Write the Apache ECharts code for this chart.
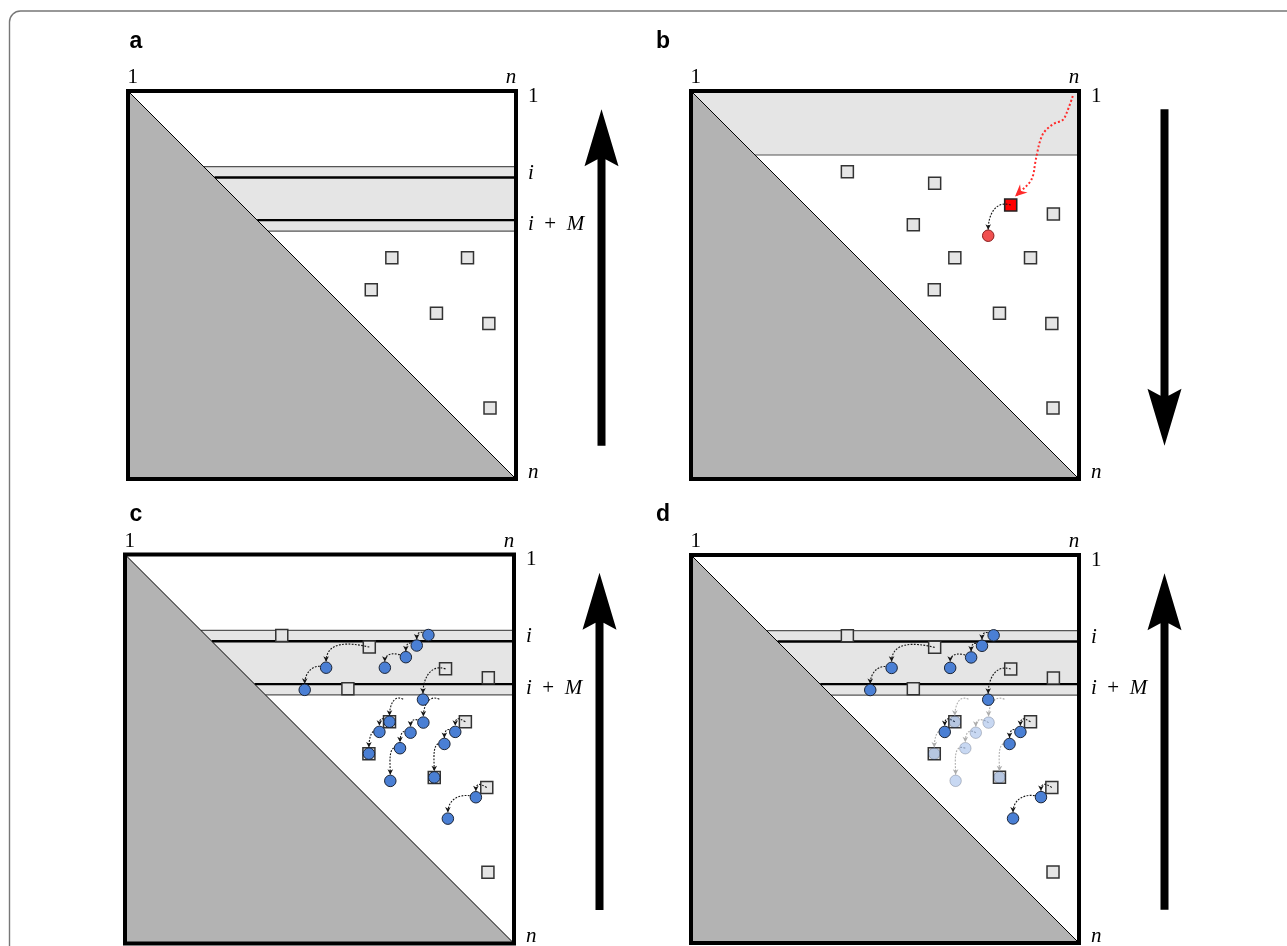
<!DOCTYPE html>
<html>
<head>
<meta charset="utf-8">
<script src="https://cdn.jsdelivr.net/npm/echarts@6/dist/echarts.min.js"></script>
<style>
  html, body { margin: 0; padding: 0; background: #fff; }
  #chart { width: 1287px; height: 946px; }
</style>
</head>
<body>
<div id="chart"></div>
<script>
// Matrix coordinates: column (x) and row (y) as percent of n, row 0 at the top.
const panelNames = ['a', 'b', 'c', 'd'];
const panelKinds = ['window', 'done', 'window', 'window'];
const arrowDirs = ['up', 'down', 'up', 'up'];

// tick labels around each matrix
const topTickValues = [1.2, 98.7];
const topTickLabels = ['1', 'n'];
const rowTickValues = [1.3, 21.2, 34.5, 98.2];
const rowTickLabels = ['1', 'i', 'i  +  M', 'n'];
const rowTickValuesPlain = [1.3, 98.2];
const rowTickLabelsPlain = ['1', 'n'];

// window of rows i .. i+M (outer edges and inner lines)
const windowRows = { top: 19.5, innerTop: 22.3, innerBottom: 33.3, bottom: 36.1 };
// rows already processed in panel b
const doneRow = 16.5;

// stored cells (squares)
const squares = [
  [40.3, 20.8], [62.8, 23.8], [82.4, 29.4], [93.4, 31.7], [57.3, 34.5],
  [68.0, 43.0], [87.5, 43.0], [62.7, 51.2], [79.5, 57.3], [93.0, 59.9], [93.3, 81.7]
];
// visited cells (circles)
const circles = [
  [78.0, 20.7], [75.0, 23.4], [72.2, 26.4], [66.8, 29.1], [51.7, 29.1],
  [46.2, 34.8], [76.6, 37.3], [68.0, 43.0], [76.7, 43.2], [65.4, 45.6],
  [73.4, 45.8], [84.9, 45.6], [70.7, 49.8], [82.1, 48.7], [62.7, 51.2],
  [79.5, 57.3], [68.2, 58.2], [90.2, 62.4], [83.0, 67.9]
];
// arrow origins that are not drawn as marks
const hiddenSources = [[71.5, 37.2], [80.8, 37.2]];

// dependency arrows: source -> target
const arrowLinks = [
  ['C1', 'C2'], ['C2', 'C3'], ['C3', 'C4'], ['S2', 'C5'], ['C5', 'C6'], ['S3', 'C7'],
  ['X1', 'C8'], ['X2', 'C9'], ['C8', 'C10'], ['C10', 'C15'], ['C9', 'C11'], ['C11', 'C13'],
  ['C13', 'C17'], ['S7', 'C12'], ['C12', 'C14'], ['C14', 'C16'], ['S10', 'C18'], ['C18', 'C19']
];
const fadedInD = ['C8', 'C9', 'C11', 'C13', 'C15', 'C16', 'C17'];

// panel b: highlighted cell, its successor and the incoming path
const highlightSquare = 'S3';
const highlightCircle = 'C7';
const incomingPath = [
  [98.4, 1.3], [96.8, 5.7], [95.8, 7.5], [93.8, 8.3], [92.1, 9.5], [90.8, 10.9],
  [89.9, 13.1], [89.3, 15.6], [88.7, 18.6], [88.2, 21.6], [87.4, 23.4], [86.1, 24.8], [83.5, 27.2]
];

function pt(key) {
  const t = key[0], i = +key.slice(1) - 1;
  return t === 'S' ? squares[i] : t === 'C' ? circles[i] : hiddenSources[i];
}

const MATH_FONT = 'Liberation Serif';
const CIRCLE_SIZE = 11.5;
const SQUARE_SIZE = 12;
const BLUE = '#4a7fd4';
const BLUE_EDGE = '#1c2536';

function mathLabel(s) {
  return s.replace(/[A-Za-z]/g, m => '{it|' + m + '}');
}
function nearestLabel(values, labels, v) {
  let best = 0;
  values.forEach((x, i) => { if (Math.abs(x - v) < Math.abs(values[best] - v)) best = i; });
  return mathLabel(labels[best]);
}

function headPoints(tip, dir, len, half, notch) {
  const n = Math.hypot(dir[0], dir[1]) || 1;
  const ux = dir[0] / n, uy = dir[1] / n;
  const px = -uy, py = ux;
  const bx = tip[0] - ux * len, by = tip[1] - uy * len;
  return [
    tip,
    [bx + px * half, by + py * half],
    [tip[0] - ux * (len - notch), tip[1] - uy * (len - notch)],
    [bx - px * half, by - py * half]
  ];
}

function renderBackground(kind) {
  return function (params, api) {
    const c = (x, y) => api.coord([x, y]);
    const kids = [];
    const seg = (a, b, stroke, w) => kids.push({
      type: 'line', shape: { x1: a[0], y1: a[1], x2: b[0], y2: b[1] },
      style: { stroke: stroke, lineWidth: w }
    });
    if (kind === 'window') {
      const w = windowRows;
      kids.push({ type: 'polygon', shape: { points: [c(w.top, w.top), c(100, w.top), c(100, w.bottom), c(w.bottom, w.bottom)] },
        style: { fill: '#e5e5e5' } });
      [w.top, w.bottom].forEach(r => seg(c(r, r), c(100, r), '#555', 1.2));
      [w.innerTop, w.innerBottom].forEach(r => seg(c(r, r), c(100, r), '#000', 2.3));
    } else {
      kids.push({ type: 'polygon', shape: { points: [c(0, 0), c(100, 0), c(100, doneRow), c(doneRow, doneRow)] },
        style: { fill: '#e5e5e5' } });
      seg(c(doneRow, doneRow), c(100, doneRow), '#555', 1.2);
    }
    kids.push({ type: 'polygon', shape: { points: [c(0, 0), c(100, 100), c(0, 100)] }, style: { fill: '#b3b3b3' } });
    seg(c(0, 0), c(100, 100), '#000', 1);
    return { type: 'group', children: kids };
  };
}

function renderArrow(params, api) {
  const s = api.coord([api.value(0), api.value(1)]);
  const t = api.coord([api.value(2), api.value(3)]);
  const faded = api.value(4) === 1;
  const color = faded ? '#adadad' : '#141414';
  const end = [t[0], t[1] - CIRCLE_SIZE / 2 - 0.3];
  const dist = Math.hypot(s[0] - end[0], end[1] - s[1]);
  const L = Math.max(0.45 * dist, 8);
  const cp1 = [s[0] - L, s[1] - Math.min(L * 0.6, 5)];
  const cp2 = [end[0], end[1] - L];
  return {
    type: 'group',
    children: [
      { type: 'bezierCurve',
        shape: { x1: s[0], y1: s[1], cpx1: cp1[0], cpy1: cp1[1], cpx2: cp2[0], cpy2: cp2[1], x2: end[0], y2: end[1] },
        style: { stroke: color, lineWidth: 1.1, lineDash: [1.8, 1.4], fill: null } },
      { type: 'polygon', shape: { points: headPoints(end, [0, 1], 5.5, 2.8, 1.5) }, style: { fill: color } }
    ]
  };
}

function renderFrame(params, api) {
  const p0 = api.coord([0, 0]), p1 = api.coord([100, 100]);
  return { type: 'rect', shape: { x: p0[0], y: p0[1], width: p1[0] - p0[0], height: p1[1] - p0[1] },
    style: { fill: null, stroke: '#000', lineWidth: 4 } };
}

function renderBigArrow(dir) {
  return function (params, api) {
    const a = api.coord([100, 4.7]), b = api.coord([100, 91.4]);
    const x = a[0] + 85.5;
    const tipY = dir === 'up' ? a[1] : b[1];
    const tailY = dir === 'up' ? b[1] : a[1];
    const s = dir === 'up' ? 1 : -1;
    const headLen = 57, half = 17, notch = 7, shaft = 4;
    const pts = [
      [x, tipY],
      [x + half, tipY + s * headLen],
      [x + shaft, tipY + s * (headLen - notch)],
      [x + shaft, tailY],
      [x - shaft, tailY],
      [x - shaft, tipY + s * (headLen - notch)],
      [x - half, tipY + s * headLen]
    ];
    return { type: 'polygon', shape: { points: pts }, style: { fill: '#000' } };
  };
}

function renderRedHead(params, api) {
  const p = api.coord([api.value(0), api.value(1)]);
  const t = api.coord([api.value(2), api.value(3)]);
  return { type: 'polygon', shape: { points: headPoints(t, [t[0] - p[0], t[1] - p[1]], 12, 5.5, 4) },
    style: { fill: '#ff2a2a' } };
}

const grids = [
  { left: 128, top: 91, width: 388, height: 388, outerBoundsMode: 'none', containLabel: false },
  { left: 691, top: 91, width: 388, height: 388, outerBoundsMode: 'none', containLabel: false },
  { left: 125, top: 554.5, width: 389, height: 389, outerBoundsMode: 'none', containLabel: false },
  { left: 691, top: 555, width: 388, height: 388, outerBoundsMode: 'none', containLabel: false }
];
const titlePos = [[129.5, 30.5], [656, 30.5], [129.5, 503], [656, 503]];

const labelBase = { fontFamily: MATH_FONT, fontSize: 21, color: '#000',
  rich: { it: { fontFamily: MATH_FONT, fontSize: 21, fontStyle: 'italic', color: '#000' } } };

const series = [];
panelNames.forEach((name, g) => {
  const ax = { xAxisIndex: g, yAxisIndex: g };
  series.push(Object.assign({ type: 'custom', z: 1, clip: false, data: [[0, 0]],
    renderItem: renderBackground(panelKinds[g]) }, ax));

  // squares
  let sq;
  if (name === 'a') {
    sq = squares.filter(p => p[1] > windowRows.bottom).map(p => ({ value: p }));
  } else {
    sq = squares.map((p, i) => {
      const key = 'S' + (i + 1);
      if (name === 'b' && key === highlightSquare) {
        return { value: p, itemStyle: { color: '#ff0000', borderColor: '#222', borderWidth: 1.6 } };
      }
      return { value: p };
    });
  }
  series.push(Object.assign({ type: 'scatter', z: 3, symbol: 'rect', symbolSize: SQUARE_SIZE, data: sq,
    itemStyle: { color: '#e5e5e5', borderColor: '#333', borderWidth: 1.5, opacity: 1 } }, ax));

  // arrows
  let links = [];
  if (name === 'b') links = [[highlightSquare, highlightCircle]];
  if (name === 'c' || name === 'd') links = arrowLinks;
  if (links.length) {
    series.push(Object.assign({ type: 'custom', z: 4, clip: false, renderItem: renderArrow,
      data: links.map(([s, t]) => [...pt(s), ...pt(t), (name === 'd' && fadedInD.includes(t)) ? 1 : 0]) }, ax));
  }

  // circles
  let cs = [];
  if (name === 'b') {
    cs = [{ value: pt(highlightCircle), itemStyle: { color: '#f05050', borderColor: '#8a1c1c' } }];
  } else if (name === 'c' || name === 'd') {
    cs = circles.map((p, i) => {
      const key = 'C' + (i + 1);
      if (name === 'd' && fadedInD.includes(key)) {
        return { value: p, itemStyle: { color: 'rgba(74,127,212,0.3)', borderColor: 'rgba(28,37,54,0.25)' } };
      }
      return { value: p };
    });
  }
  if (cs.length) {
    series.push(Object.assign({ type: 'scatter', z: 5, symbol: 'circle', symbolSize: CIRCLE_SIZE, data: cs,
      itemStyle: { color: BLUE, borderColor: BLUE_EDGE, borderWidth: 1, opacity: 1 } }, ax));
  }

  if (name === 'b') {
    series.push(Object.assign({ type: 'line', z: 6, data: incomingPath, smooth: 0.35, symbol: 'none',
      lineStyle: { color: '#ff2a2a', width: 2, type: [2, 2.2] } }, ax));
    const n = incomingPath.length;
    series.push(Object.assign({ type: 'custom', z: 6, clip: false, renderItem: renderRedHead,
      data: [[...incomingPath[n - 2], ...incomingPath[n - 1]]] }, ax));
  }

  series.push(Object.assign({ type: 'custom', z: 8, clip: false, data: [[0, 0]], renderItem: renderFrame }, ax));
  series.push(Object.assign({ type: 'custom', z: 8, clip: false, data: [[0, 0]], renderItem: renderBigArrow(arrowDirs[g]) }, ax));
});

const option = {
  animation: false,
  backgroundColor: '#fff',
  graphic: [{ type: 'rect', silent: true, z: -10,
    shape: { x: 9.5, y: 11, width: 1330, height: 1000, r: 11 },
    style: { fill: null, stroke: '#777', lineWidth: 1.4 } }],
  title: panelNames.map((t, i) => ({
    text: t, left: titlePos[i][0], top: titlePos[i][1], padding: 0,
    textStyle: { fontFamily: 'Liberation Sans', fontWeight: 'bold', fontSize: 23, color: '#000' }
  })),
  grid: grids,
  xAxis: grids.map((gr, i) => ({
    gridIndex: i, type: 'value', min: 0, max: 100, position: 'top',
    axisLine: { show: false }, axisTick: { show: false }, splitLine: { show: false },
    axisLabel: Object.assign({ customValues: topTickValues, margin: 3,
      formatter: v => nearestLabel(topTickValues, topTickLabels, v) }, labelBase)
  })),
  yAxis: grids.map((gr, i) => {
    const vals = panelKinds[i] === 'window' ? rowTickValues : rowTickValuesPlain;
    const labs = panelKinds[i] === 'window' ? rowTickLabels : rowTickLabelsPlain;
    return {
      gridIndex: i, type: 'value', min: 0, max: 100, inverse: true, position: 'right',
      axisLine: { show: false }, axisTick: { show: false }, splitLine: { show: false },
      axisLabel: Object.assign({ customValues: vals, margin: 12,
        formatter: v => nearestLabel(vals, labs, v) }, labelBase)
    };
  }),
  series: series
};

const chart = echarts.init(document.getElementById('chart'), null, { renderer: 'canvas' });
chart.setOption(option);
</script>
</body>
</html>
